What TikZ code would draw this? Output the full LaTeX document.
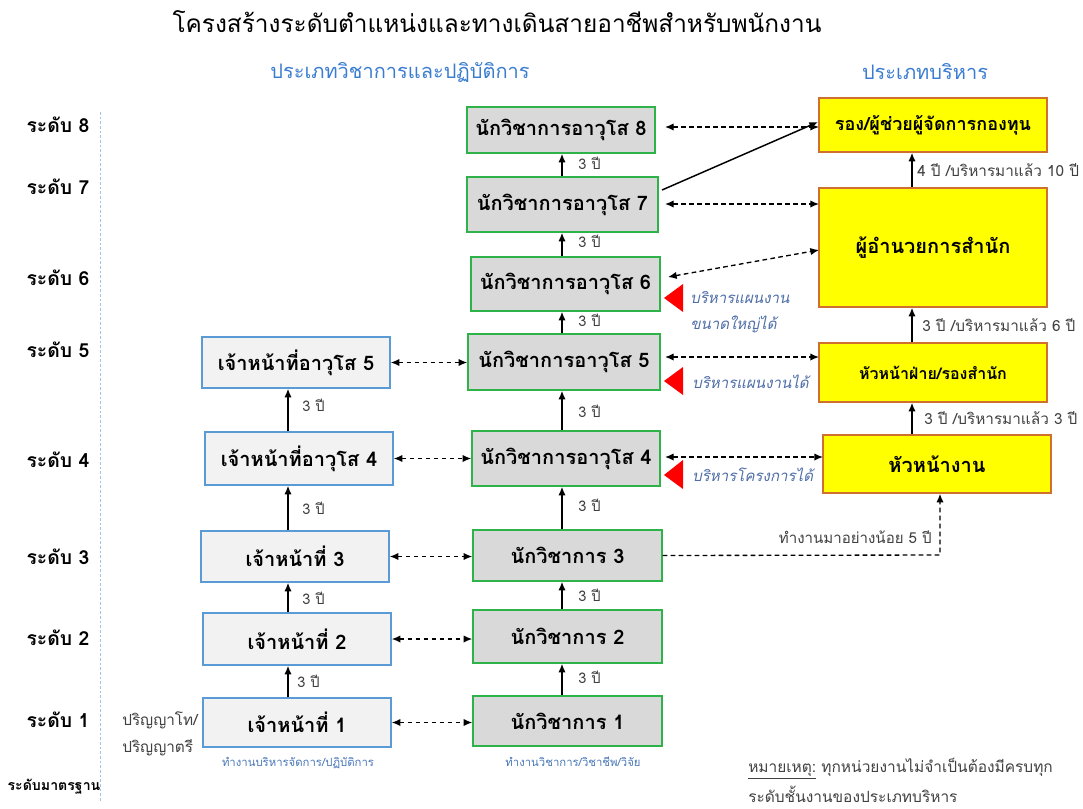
\documentclass[tikz,border=0pt]{standalone}
\usepackage{fontspec}
\newfontfamily\thai[Script=Thai]{Loma}
\usetikzlibrary{arrows.meta}
\definecolor{midfill}{HTML}{D9D9D9}
\definecolor{midline}{HTML}{2DB34A}
\definecolor{leftfill}{HTML}{F2F2F2}
\definecolor{leftline}{HTML}{5B9BD5}
\definecolor{mgrfill}{HTML}{FFFF00}
\definecolor{mgrline}{HTML}{D0702E}
\definecolor{headblue}{HTML}{3A7DD0}
\definecolor{noteblue}{HTML}{4F6EA8}
\definecolor{subblue}{HTML}{4A78B8}
\definecolor{txtgray}{HTML}{404040}
\definecolor{guide}{HTML}{9DC3E6}
\newcommand\tf[1]{\thai\fontsize{#1}{#1}\selectfont}
\begin{document}
\begin{tikzpicture}[x=0.75pt,y=-0.75pt,
  every node/.style={font=\thai},
  sz/.style 2 args={minimum width=#1*0.75pt, minimum height=#2*0.75pt, inner sep=0pt},
  midbox/.style={draw=midline, fill=midfill, line width=1.1pt, font=\tf{15pt}\bfseries},
  leftbox/.style={draw=leftline, fill=leftfill, line width=1.1pt, font=\tf{15pt}\bfseries},
  mgrbox/.style={draw=mgrline, fill=mgrfill, line width=1.1pt, font=\tf{15pt}\bfseries},
  lvl/.style={font=\tf{14.5pt}\bfseries},
  yr/.style={font=\tf{11pt}, text=txtgray, anchor=west, inner sep=0pt},
  mgryr/.style={font=\tf{11.5pt}, text=txtgray, anchor=west, inner sep=0pt},
  remark/.style={font=\tf{11.3pt}\itshape, text=noteblue, anchor=west, inner sep=0pt},
  sub/.style={font=\tf{8.5pt}, text=subblue, inner sep=0pt},
  up/.style={-{Latex[length=6.5pt,width=5.5pt]}, line width=1.1pt},
  link/.style={{Latex[length=6.5pt,width=5.5pt]}-{Latex[length=6.5pt,width=5.5pt]}, dash pattern=on 3.5pt off 2.5pt, line width=1pt},
  oneway/.style={-{Latex[length=6.5pt,width=5.5pt]}, dash pattern=on 3.5pt off 2.5pt, line width=1pt},
  flag/.style={fill=red, draw=none},
  plain/.style={text=txtgray, anchor=west, inner sep=0pt}
]
\useasboundingbox (0,0) rectangle (1083,808);

% title and column headings
\node (title) at (497,22) {\tf{18.3pt}โครงสร้างระดับตำแหน่งและทางเดินสายอาชีพสำหรับพนักงาน};
\node[text=headblue] (hacad) at (400,72) {\tf{15pt}ประเภทวิชาการและปฏิบัติการ};
\node[text=headblue] (hmgr) at (925,72) {\tf{15pt}ประเภทบริหาร};

% level labels and guide line
\node[lvl] (l8) at (58,125) {ระดับ 8};
\node[lvl] (l7) at (58,187) {ระดับ 7};
\node[lvl] (l6) at (58,278) {ระดับ 6};
\node[lvl] (l5) at (58,350) {ระดับ 5};
\node[lvl] (l4) at (58,460) {ระดับ 4};
\node[lvl] (l3) at (58,557) {ระดับ 3};
\node[lvl] (l2) at (58,638) {ระดับ 2};
\node[lvl] (l1) at (58,720) {ระดับ 1};
\node[font=\tf{10.6pt}\bfseries] (l0) at (54,787) {ระดับมาตรฐาน};
\coordinate (gtop) at (100,112);
\coordinate (gbot) at (100,802);
\draw[guide, line width=0.7pt, dash pattern=on 2pt off 1.5pt] (gtop) -- (gbot);

% operations track
\node[leftbox, sz={188}{51}] (J5) at (296,362.5) {เจ้าหน้าที่อาวุโส 5};
\node[leftbox, sz={188}{53}] (J4) at (299,458.5) {เจ้าหน้าที่อาวุโส 4};
\node[leftbox, sz={188}{51}] (J3) at (295,556.5) {เจ้าหน้าที่ 3};
\node[leftbox, sz={188}{52}] (J2) at (297,639) {เจ้าหน้าที่ 2};
\node[leftbox, sz={188}{49}] (J1) at (297,722.5) {เจ้าหน้าที่ 1};
\coordinate (lx) at (288,0);
\draw[up] (J4.north -| lx) -- (J5.south -| lx);
\draw[up] (J3.north -| lx) -- (J4.south -| lx);
\draw[up] (J2.north -| lx) -- (J3.south -| lx);
\draw[up] (J1.north -| lx) -- (J2.south -| lx);
\node[yr] (ly5) at (302,405) {3 ปี};
\node[yr] (ly4) at (302,508) {3 ปี};
\node[yr] (ly3) at (302,598) {3 ปี};
\node[yr] (ly2) at (297,681) {3 ปี};
\node[plain, font=\tf{11.5pt}] (deg1) at (122,720) {ปริญญาโท/};
\node[plain, font=\tf{11.5pt}] (deg2) at (122,748) {ปริญญาตรี};
\node[sub] (jsub) at (298,763) {ทำงานบริหารจัดการ/ปฏิบัติการ};

% academic track
\node[midbox, sz={188}{46}] (A8) at (561,130) {นักวิชาการอาวุโส 8};
\node[midbox, sz={191}{55}] (A7) at (562.5,204.5) {นักวิชาการอาวุโส 7};
\node[midbox, sz={189}{54}] (A6) at (565.5,284) {นักวิชาการอาวุโส 6};
\node[midbox, sz={192}{56}] (A5) at (564,362) {นักวิชาการอาวุโส 5};
\node[midbox, sz={188}{55}] (A4) at (566,458.5) {นักวิชาการอาวุโส 4};
\node[midbox, sz={189}{51}] (N3) at (567.5,555.5) {นักวิชาการ 3};
\node[midbox, sz={189}{53}] (N2) at (567.5,636.5) {นักวิชาการ 2};
\node[midbox, sz={189}{50}] (N1) at (567.5,721) {นักวิชาการ 1};
\coordinate (mx) at (562,0);
\draw[up] (A7.north -| mx) -- (A8.south -| mx);
\draw[up] (A6.north -| mx) -- (A7.south -| mx);
\draw[up] (A5.north -| mx) -- (A6.south -| mx);
\draw[up] (A4.north -| mx) -- (A5.south -| mx);
\draw[up] (N3.north -| mx) -- (A4.south -| mx);
\draw[up] (N2.north -| mx) -- (N3.south -| mx);
\draw[up] (N1.north -| mx) -- (N2.south -| mx);
\node[yr] (my8) at (578,163) {3 ปี};
\node[yr] (my7) at (578,241) {3 ปี};
\node[yr] (my6) at (578,320) {3 ปี};
\node[yr] (my5) at (578,411) {3 ปี};
\node[yr] (my4) at (578,505) {3 ปี};
\node[yr] (my3) at (578,595) {3 ปี};
\node[yr] (my2) at (578,677) {3 ปี};
\node[sub] (nsub) at (573,762) {ทำงานวิชาการ/วิชาชีพ/วิจัย};

% cross links between the two tracks
\draw[link] (J5.east) -- (J5.east -| A5.west);
\draw[link] (J4.east) -- (J4.east -| A4.west);
\draw[link] (J3.east) -- (J3.east -| N3.west);
\draw[link] (J2.east) -- (J2.east -| N2.west);
\draw[link] (J1.east) -- (J1.east -| N1.west);

% management track
\node[mgrbox, sz={228}{54}, font=\tf{13.5pt}\bfseries] (R8) at (933,125) {รอง/ผู้ช่วยผู้จัดการกองทุน};
\node[mgrbox, sz={228}{119}] (DIR) at (933,247.5) {ผู้อำนวยการสำนัก};
\node[mgrbox, sz={228}{59}, font=\tf{12pt}\bfseries] (HF) at (933,372.5) {หัวหน้าฝ่าย/รองสำนัก};
\node[mgrbox, sz={228}{58}] (HN) at (937,464) {หัวหน้างาน};
\coordinate (rx) at (912,0);
\draw[up] (HN.north -| rx) -- (HF.south -| rx);
\draw[up] (HF.north -| rx) -- (DIR.south -| rx);
\draw[up] (DIR.north -| rx) -- (R8.south -| rx);
\node[mgryr] (ry8) at (917,170) {4 ปี /บริหารมาแล้ว 10 ปี};
\node[mgryr] (ry6) at (922,325) {3 ปี /บริหารมาแล้ว 6 ปี};
\node[mgryr] (ry5) at (924,418) {3 ปี /บริหารมาแล้ว 3 ปี};

% links from academic to management
\coordinate (a8e) at (665,127);
\coordinate (r8w) at (819,127);
\draw[link] (a8e) -- (r8w);
\coordinate (a7s) at (662,190);
\coordinate (r8s) at (818,122);
\draw[up] (a7s) -- (r8s);
\coordinate (a7e) at (665,204);
\coordinate (d7) at (819,204);
\draw[link] (a7e) -- (d7);
\coordinate (a6e) at (668,277);
\coordinate (d6) at (819,250);
\draw[link] (a6e) -- (d6);
\coordinate (a5e) at (665,357);
\coordinate (hfw) at (819,357);
\draw[link] (a5e) -- (hfw);
\coordinate (a4e) at (665,457);
\coordinate (hnw) at (823,457);
\draw[link] (a4e) -- (hnw);
\coordinate (bend) at (940,555);
\draw[oneway] (N3.east) -- (bend) -- (bend |- HN.south);
\node[plain, anchor=east, font=\tf{11.3pt}] (n3note) at (932,537) {ทำงานมาอย่างน้อย 5 ปี};

% markers for management capability
\fill[flag] (664,298) -- (683,284) -- (683,312) -- cycle;
\fill[flag] (664,381) -- (683,367) -- (683,395) -- cycle;
\fill[flag] (664,475) -- (683,460) -- (683,489) -- cycle;
\node[remark] (rk6a) at (690,297) {บริหารแผนงาน};
\node[remark] (rk6b) at (690,324) {ขนาดใหญ่ได้};
\node[remark] (rk5) at (692,382) {บริหารแผนงานได้};
\node[remark] (rk4) at (692,475) {บริหารโครงการได้};

% footnote
\node[plain, font=\tf{11.6pt}] (note1) at (748,769) {\underline{หมายเหตุ:} ทุกหน่วยงานไม่จำเป็นต้องมีครบทุก};
\node[plain, font=\tf{11.6pt}] (note2) at (748,794) {ระดับชั้นงานของประเภทบริหาร};
\end{tikzpicture}
\end{document}
